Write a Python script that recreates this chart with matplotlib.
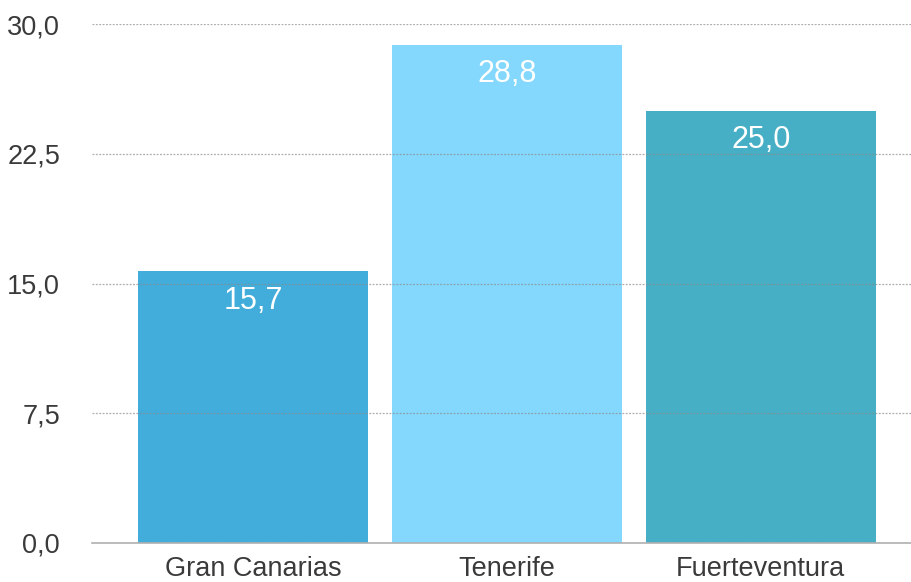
import matplotlib
matplotlib.use("Agg")
import matplotlib.pyplot as plt
from matplotlib.ticker import FuncFormatter, MultipleLocator

# Datos del gráfico
islands = ["Gran Canarias", "Tenerife", "Fuerteventura"]
values = [15.7, 28.8, 25.0]
colors = ["#42ADDB", "#84D8FD", "#47AFC5"]

plt.rcParams["font.family"] = ["Liberation Sans", "DejaVu Sans"]

fig = plt.figure(figsize=(9.12, 5.82), dpi=100)
ax = fig.add_axes([92 / 912, 39 / 582, 1 - 92 / 912, (543 - 24) / 582])

x = range(len(islands))
bars = ax.bar(x, values, width=0.905, color=colors, zorder=2)

# Etiquetas de valor dentro de cada barra
for xi, v in zip(x, values):
    ax.annotate(f"{v:.1f}".replace(".", ","), (xi, v), xytext=(0, -21),
                textcoords="offset points", ha="center", va="center",
                color="white", fontsize=22, fontweight="medium", zorder=4)

ax.set_xlim(-0.634, 2.596)
ax.set_ylim(0, 30)
ax.yaxis.set_major_locator(MultipleLocator(7.5))
ax.yaxis.set_major_formatter(FuncFormatter(lambda v, p: f"{v:.1f}".replace(".", ",")))
ax.set_xticks(list(x))
ax.set_xticklabels(islands)

# Rejilla punteada por encima de las barras
ax.grid(axis="y", linestyle=(0, (1.5, 1.2)), color="#8a8a8a", linewidth=0.9, alpha=0.7, zorder=3)
ax.set_axisbelow(False)

for side in ["top", "right", "left"]:
    ax.spines[side].set_visible(False)
ax.spines["bottom"].set_color("#b0b0b0")
ax.spines["bottom"].set_linewidth(1.2)
ax.spines["bottom"].set_zorder(5)

ax.tick_params(axis="both", length=0, labelsize=19.5, labelcolor="#3a3a3a")
ax.tick_params(axis="y", pad=23)
ax.tick_params(axis="x", pad=9)

fig.savefig("out.png", dpi=100)
